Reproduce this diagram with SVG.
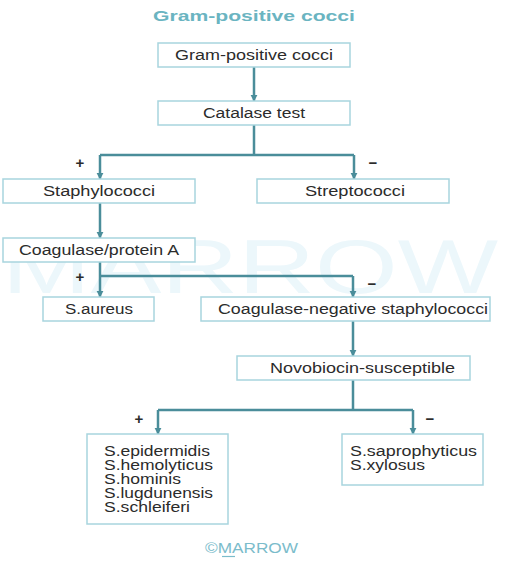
<svg xmlns="http://www.w3.org/2000/svg" width="515" height="565" viewBox="0 0 515 565">
<style>
.box{fill:#ffffff;stroke:#a8d5de;stroke-width:1.5}
.t{font-family:"Liberation Sans",Arial,sans-serif;font-size:14px;fill:#2b2b2b;text-anchor:middle}
.ts{font-family:"Liberation Sans",Arial,sans-serif;font-size:14px;fill:#2b2b2b;text-anchor:start}
.sign{font-family:"Liberation Sans",Arial,sans-serif;font-size:15px;font-weight:bold;fill:#2b2b2b;text-anchor:middle}
.c{fill:none;stroke:#4a8d9a;stroke-width:2.5}
.a{marker-end:url(#ah)}
</style>
<defs>
<marker id="ah" viewBox="0 0 10 10" refX="9" refY="5" markerUnits="userSpaceOnUse" markerWidth="7" markerHeight="8" orient="auto">
<path d="M0,0 L10,5 L0,10 z" fill="#4a8d9a"/>
</marker>
</defs>
<rect width="515" height="565" fill="#ffffff"/>
<text x="2" y="293" font-family="Liberation Sans,Arial,sans-serif" font-size="76" fill="#ecf7fb" textLength="496" lengthAdjust="spacingAndGlyphs">MARROW</text>
<text x="254" y="21" font-family="Liberation Sans,Arial,sans-serif" font-size="15" font-weight="bold" fill="#6ab4c1" text-anchor="middle" textLength="202" lengthAdjust="spacingAndGlyphs">Gram-positive cocci</text>
<g id="connectors">
<path class="c a" d="M254,67 V101"/>
<path class="c" d="M254,125 V155"/>
<path class="c" d="M100,155 H354"/>
<path class="c a" d="M100,155 V179"/>
<path class="c a" d="M354,155 V179"/>
<path class="c a" d="M100,203 V238"/>
<path class="c" d="M100,262 V276"/>
<path class="c" d="M100,276 H353"/>
<path class="c a" d="M100,276 V297"/>
<path class="c a" d="M353,276 V297"/>
<path class="c a" d="M353,321 V356"/>
<path class="c" d="M353,380 V410"/>
<path class="c" d="M158,410 H413"/>
<path class="c a" d="M158,410 V434"/>
<path class="c a" d="M413,410 V434"/>
<text class="sign" x="80" y="168">+</text>
<text class="sign" x="373" y="168">−</text>
<text class="sign" x="80" y="282">+</text>
<text class="sign" x="372" y="289">−</text>
<text class="sign" x="139" y="424">+</text>
<text class="sign" x="430" y="424">−</text>
</g>
<g id="n1"><rect class="box" x="158" y="43" width="192" height="24"/><text class="t" x="254" y="60" textLength="158" lengthAdjust="spacingAndGlyphs">Gram-positive cocci</text></g>
<g id="n2"><rect class="box" x="158" y="101" width="192" height="24"/><text class="t" x="254" y="118" textLength="102" lengthAdjust="spacingAndGlyphs">Catalase test</text></g>
<g id="n3"><rect class="box" x="3" y="179" width="192" height="24"/><text class="t" x="99" y="196" textLength="112" lengthAdjust="spacingAndGlyphs">Staphylococci</text></g>
<g id="n4"><rect class="box" x="257" y="179" width="192" height="24"/><text class="t" x="355" y="196" textLength="100" lengthAdjust="spacingAndGlyphs">Streptococci</text></g>
<g id="n5"><rect class="box" x="3" y="238" width="192" height="24"/><text class="t" x="99" y="255" textLength="160" lengthAdjust="spacingAndGlyphs">Coagulase/protein A</text></g>
<g id="n6"><rect class="box" x="43" y="297" width="111" height="24"/><text class="t" x="99" y="314" textLength="68" lengthAdjust="spacingAndGlyphs">S.aureus</text></g>
<g id="n7"><rect class="box" x="201" y="297" width="289" height="24"/><text class="t" x="353" y="314" textLength="270" lengthAdjust="spacingAndGlyphs">Coagulase-negative staphylococci</text></g>
<g id="n8"><rect class="box" x="237" y="356" width="233" height="24"/><text class="t" x="362.5" y="373" textLength="185" lengthAdjust="spacingAndGlyphs">Novobiocin-susceptible</text></g>
<g id="n9"><rect class="box" x="87" y="434" width="141" height="90"/>
<text class="ts" x="104" y="456" textLength="106" lengthAdjust="spacingAndGlyphs">S.epidermidis</text>
<text class="ts" x="104" y="470" textLength="109" lengthAdjust="spacingAndGlyphs">S.hemolyticus</text>
<text class="ts" x="104" y="484" textLength="77" lengthAdjust="spacingAndGlyphs">S.hominis</text>
<text class="ts" x="104" y="498" textLength="109" lengthAdjust="spacingAndGlyphs">S.lugdunensis</text>
<text class="ts" x="104" y="512" textLength="86" lengthAdjust="spacingAndGlyphs">S.schleiferi</text>
</g>
<g id="n10"><rect class="box" x="342" y="434" width="141" height="51"/>
<text class="ts" x="350" y="456" textLength="127" lengthAdjust="spacingAndGlyphs">S.saprophyticus</text>
<text class="ts" x="350" y="470" textLength="75" lengthAdjust="spacingAndGlyphs">S.xylosus</text>
</g>
<text x="205" y="553" font-family="Liberation Sans,Arial,sans-serif" font-size="14" fill="#7bbccb" textLength="93" lengthAdjust="spacingAndGlyphs">©MARROW</text>
<line x1="222" y1="556.5" x2="235" y2="556.5" stroke="#7bbccb" stroke-width="1.2"/>
</svg>
